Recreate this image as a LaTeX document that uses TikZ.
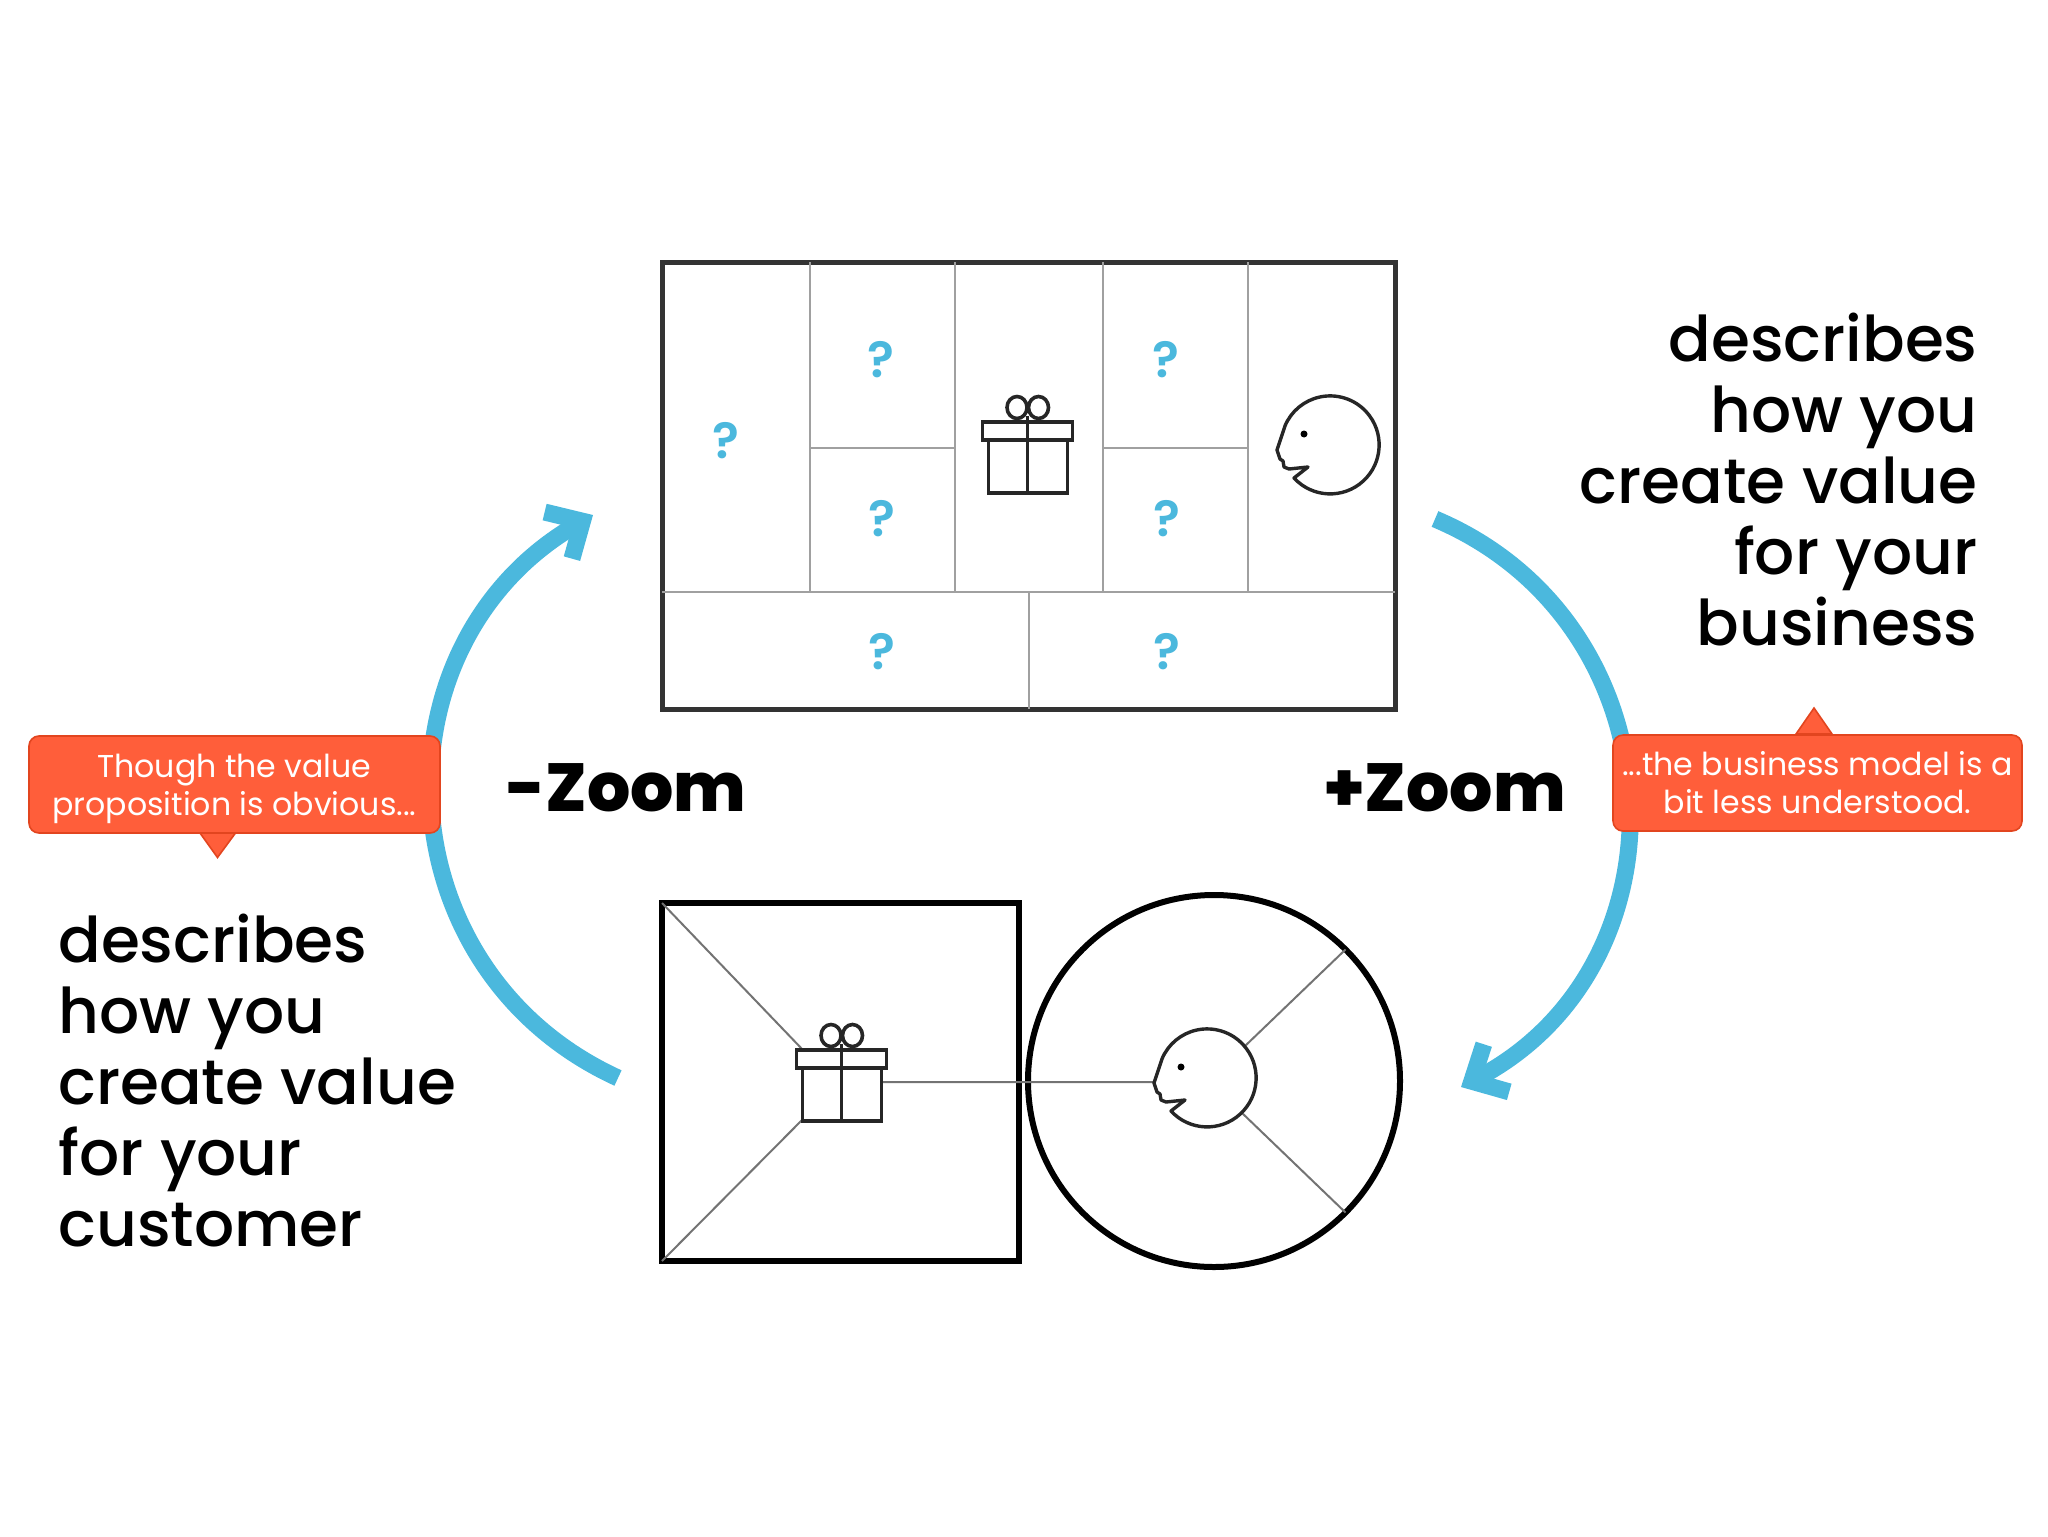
\documentclass[tikz,border=0pt]{standalone}
\usepackage{fontspec}
\setmainfont{Poppins Medium}
\newfontfamily\notefont{Poppins}
\newfontfamily\zoomfont{Poppins ExtraBold}
\newfontfamily\markfont{Poppins SemiBold}
\usetikzlibrary{arrows.meta}

\definecolor{zoomblue}{HTML}{4BB8DD}
\definecolor{tagred}{HTML}{FF5E3A}
\definecolor{tagedge}{HTML}{E2451F}
\definecolor{gridgrey}{HTML}{A0A0A0}

\tikzset{
  gift/.pic={
    \draw[iconline] (-45,0) rectangle (45,18);
    \draw[iconline] (-39,18) rectangle (40,71);
    \draw[iconline] (0,-6) -- (0,71);
    \draw[iconline] (-10.5,-14.5) ellipse [x radius=10,y radius=11];
    \draw[iconline] (11,-14.5) ellipse [x radius=10,y radius=11];
  },
  face/.pic={
    \draw[iconline,line width=1.7pt,line join=round] (-36,33) arc [start angle=137.5,end angle=-157,radius=49]
      -- (-53,5) -- (-50,14) -- (-47,16) -- (-46,22) -- (-41,24) -- (-22,22) -- cycle;
    \fill (-26,-11) circle (3.5);
  },
  iconline/.style={draw=black!85,line width=1.8pt},
  hub/.style={circle,inner sep=0pt,minimum size=48pt},
  zoomarrow/.style={draw=zoomblue,line width=8.5pt,-{Straight Barb[length=14pt,width=27pt,line width=8.5pt]}},
  tag/.style={draw=tagedge,fill=tagred,text=white,rounded corners=5pt,line width=.8pt,inner sep=0pt,
    align=center,font=\notefont\fontsize{15.8}{19}\selectfont},
  tagtail/.style={draw=tagedge,fill=tagred,line width=.8pt},
  bigtext/.style={inner sep=0pt,font=\fontsize{31.5}{35.5}\selectfont},
  zoomlabel/.style={inner sep=0pt,font=\zoomfont\fontsize{34}{40}\selectfont}
}

\begin{document}
\begin{tikzpicture}[x=0.5pt,y=-0.5pt]
  \useasboundingbox (0,0) rectangle (2048,1536);

  % business model canvas
  \node[draw=black!80,line width=2.5pt,outer sep=0pt,minimum width=366.5pt,minimum height=223.5pt,inner sep=0pt] (canvas) at (1028.5,485.5) {};
  \draw[gridgrey,line width=1.4pt]
    (810,262) -- (810,592)
    (955,262) -- (955,592)
    (1103,262) -- (1103,592)
    (1248,262) -- (1248,592)
    (810,448) -- (955,448)
    (1103,448) -- (1248,448)
    (1029,592) -- (1029,709)
    (662,592) -- (1395,592);

  \foreach \name/\px/\py in {keypartners/726/441,activities/881/360,resources/882/519,relations/1166/360,channels/1167/519,costs/882/652,revenue/1167/652}
    \node[text=zoomblue,inner sep=0pt,font=\markfont\fontsize{25}{25}\selectfont] (\name) at (\px,\py) {?};

  \pic at (1027.5,422) {gift};
  \pic at (1330,445) {face};

  % value proposition canvas
  \node[draw=black,line width=3.4pt,outer sep=0pt,minimum width=178.5pt,minimum height=179pt,inner sep=0pt] (squarebox) at (840.5,1082) {};
  \node[draw=black,circle,line width=3pt,outer sep=0pt,minimum size=186pt,inner sep=0pt] (ring) at (1214,1081) {};
  \node[inner sep=0pt,minimum width=39pt,minimum height=34.5pt] (giftb) at (842,1084.5) {};
  \node[hub] (faceb) at (1207,1078) {};
  \coordinate (nose) at (1155,1082);

  \draw[black!55,line width=1pt]
    (squarebox.north west) -- (giftb.north west)
    (squarebox.south west) -- (giftb.south west)
    (nose -| giftb.east) -- (nose)
    (ring.45) -- (faceb.40)
    (ring.-45) -- (faceb.-45);

  \pic at (841.5,1050) {gift};
  \pic at (1207,1078) {face};

  % zoom arrows
  \coordinate (leftstart) at (618,1078);
  \coordinate (lefttip) at (593,515);
  \coordinate (rightstart) at (1435,519);
  \coordinate (righttip) at (1461,1087);
  \draw[zoomarrow] (leftstart) .. controls (382,970) and (369.5,646) .. (lefttip);
  \draw[zoomarrow] (rightstart) .. controls (1679,622) and (1695,962) .. (righttip);

  \node[zoomlabel,anchor=base west] (minuszoom) at (506,811) {-Zoom};
  \node[zoomlabel,anchor=base east] (pluszoom) at (1566,811) {+Zoom};

  % callouts
  \draw[tagtail] (200,833) -- (217.5,857.5) -- (235.5,833) -- cycle;
  \draw[tagtail] (1796,734) -- (1814,708) -- (1832,734) -- cycle;
  \node[tag,text depth=0pt,minimum width=205.5pt,minimum height=48.5pt] (leftnote) at (234.5,784.5) {Though the value\\proposition is obvious...};
  \node[tag,minimum width=204.5pt,minimum height=48pt] (rightnote) at (1817.5,783) {...the business model is a\\bit less understood.};

  \node[bigtext,anchor=north west,align=left] (leftblurb) at (58,914) {describes\\how you\\create value\\for your\\customer};
  \node[bigtext,anchor=north east,align=right] (rightblurb) at (1978,313) {describes\\how you\\create value\\for your\\business};
\end{tikzpicture}
\end{document}
